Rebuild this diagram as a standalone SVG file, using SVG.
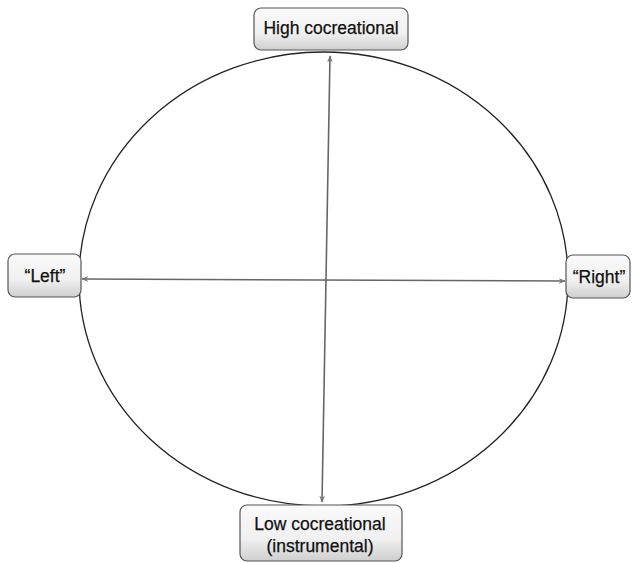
<svg xmlns="http://www.w3.org/2000/svg" width="632" height="563" viewBox="0 0 632 563">
<style>
.box{fill:url(#g);stroke:#555;stroke-width:1.2}
.t{font-family:"Liberation Sans",Arial,sans-serif;font-size:17.5px;fill:#111;text-anchor:middle;stroke:#111;stroke-width:0.25}
.ax{stroke:#666;stroke-width:1.6;fill:none;marker-start:url(#ah);marker-end:url(#ah)}
</style>
<defs>
<linearGradient id="g" x1="0" y1="0" x2="0" y2="1">
<stop offset="0" stop-color="#fafafa"/>
<stop offset="0.6" stop-color="#f0f0f0"/>
<stop offset="1" stop-color="#cfcfcf"/>
</linearGradient>
<marker id="ah" viewBox="0 0 10 10" refX="9" refY="5" markerWidth="7" markerHeight="7" orient="auto-start-reverse" markerUnits="userSpaceOnUse">
<path d="M0,1 L10,5 L0,9 L3,5 z" fill="#777"/>
</marker>
</defs>
<rect width="632" height="563" fill="#fff"/>
<g id="circle"><ellipse cx="323.5" cy="279" rx="244.5" ry="227" fill="none" stroke="#222" stroke-width="1.3"/></g>
<g id="connectors">
<line class="ax" x1="330" y1="56" x2="322" y2="502"/>
<line class="ax" x1="82" y1="279" x2="565" y2="281"/>
</g>
<g id="high"><rect class="box" x="254" y="8" width="154" height="42" rx="7"/><text class="t" x="331" y="34">High cocreational</text></g>
<g id="left"><rect class="box" x="8" y="254" width="73" height="43" rx="7"/><text class="t" x="45" y="282">“Left”</text></g>
<g id="right"><rect class="box" x="566" y="255" width="64" height="43" rx="7"/><text class="t" x="599" y="283">“Right”</text></g>
<g id="low"><rect class="box" x="240" y="505" width="162" height="56" rx="7"/><text class="t" x="320" y="530">Low cocreational</text><text class="t" x="320" y="552">(instrumental)</text></g>
</svg>
